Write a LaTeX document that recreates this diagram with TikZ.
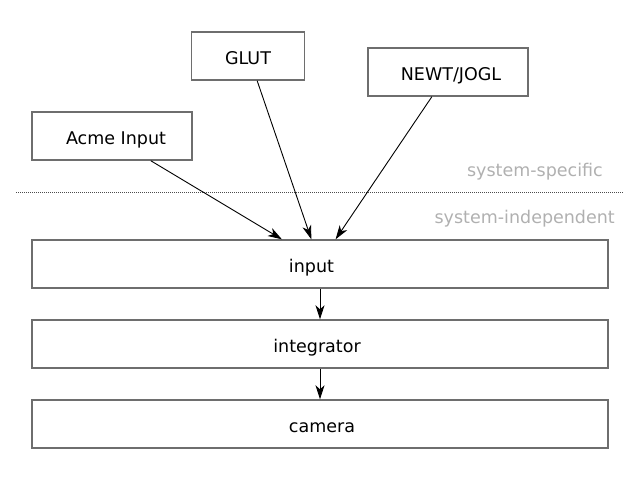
\documentclass[tikz,border=0pt]{standalone}
\usepackage{fontspec}
\setmainfont{DejaVu Sans}
\usetikzlibrary{arrows.meta,calc}
\definecolor{boxline}{HTML}{6E6E6E}
\definecolor{labelgray}{HTML}{B0B0B0}
\newcommand\shtext[2]{\kern#1\relax #2}
\tikzset{
  box/.style={draw=boxline, line width=1.4pt, rectangle, inner sep=0pt, text height=16pt, text depth=0pt, font=\fontsize{17.5}{20}\selectfont, text=black},
  conn/.style={draw=black, line width=0.9pt, -{Stealth[length=14pt,width=9pt,inset=4pt]}},
  sep/.style={draw=black!70, line width=1pt, dotted, dash pattern=on 1pt off 1pt},
  zone/.style={text=labelgray, font=\fontsize{17.5}{20}\selectfont, inner sep=0pt, anchor=base east}
}
\begin{document}
\begin{tikzpicture}[x=1pt,y=-1pt]
\useasboundingbox (0,0) rectangle (640,480);
\node[box, minimum width=160pt, minimum height=48pt] (acme) at (112,136) {\shtext{8pt}{Acme Input}};
\node[box, minimum width=113pt, minimum height=48pt] (glut) at (248,56) {GLUT};
\node[box, minimum width=160pt, minimum height=48pt] (newt) at (448,72) {\shtext{6pt}{NEWT/JOGL}};
\node[box, minimum width=576pt, minimum height=48pt] (input) at (320,264) {\shtext{-17pt}{input}};
\node[box, minimum width=576pt, minimum height=48pt] (integ) at (320,344) {\shtext{-6pt}{integrator}};
\node[box, minimum width=576pt, minimum height=48pt] (camera) at (320,424) {\shtext{4pt}{camera}};
\coordinate (sepL) at (16,192);
\coordinate (sepR) at (623,192);
\draw[sep] (sepL) -- (sepR);
\node[zone] (spec) at (603,176) {system-specific};
\node[zone] (indep) at (615,223) {system-independent};
\draw[conn] ($(acme.south west)!0.74!(acme.south east)$) -- ($(input.north west)!0.434!(input.north east)$);
\draw[conn] ($(glut.south west)!0.58!(glut.south east)$) -- ($(input.north west)!0.485!(input.north east)$);
\draw[conn] ($(newt.south west)!0.4!(newt.south east)$) -- ($(input.north west)!0.527!(input.north east)$);
\draw[conn] (input.south) -- (integ.north);
\draw[conn] (integ.south) -- (camera.north);
\end{tikzpicture}
\end{document}
